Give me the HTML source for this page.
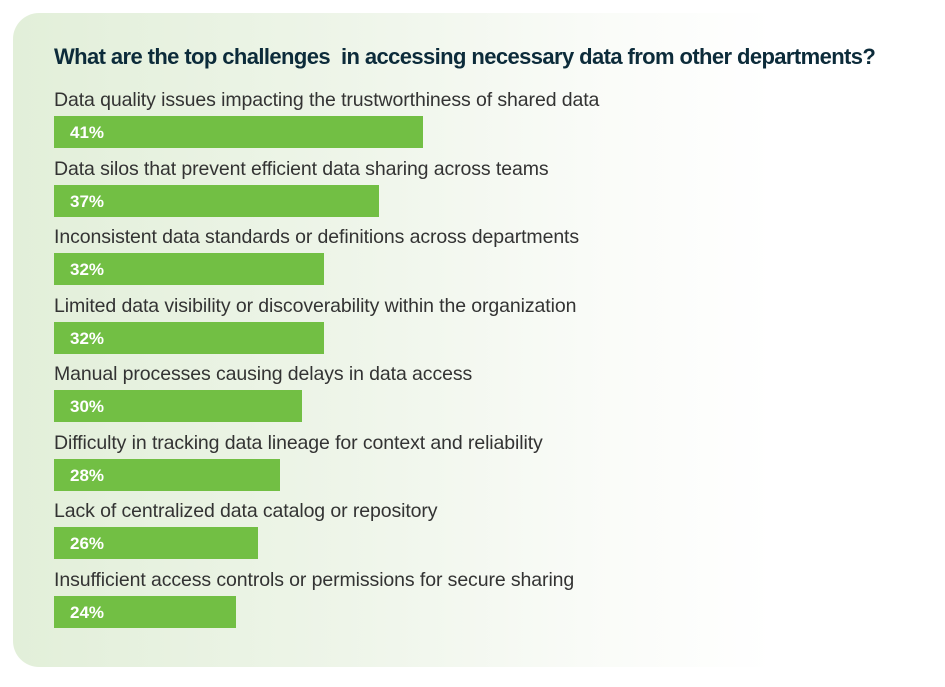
<!DOCTYPE html>
<html><head><meta charset="utf-8"><style>
body{margin:0;width:945px;height:687px;background:#fff;overflow:hidden;font-family:"Liberation Sans",sans-serif}
#card{position:absolute;left:13px;top:13px;width:950px;height:654px;border-radius:26px;background:linear-gradient(90deg,#e2efd9 0%,#eef5e9 35%,#f9fbf7 60%,#fff 80%)}
#title{position:absolute;left:54px;top:44px;font-size:22px;font-weight:bold;color:#0c2b3a;letter-spacing:-0.6px;white-space:nowrap}
.lbl{position:absolute;left:54px;font-size:19.5px;color:#333;white-space:nowrap;letter-spacing:-0.1px}
.bar{position:absolute;left:54px;height:32px;background:#72bf44}
.val{position:absolute;left:16px;top:7px;font-size:17px;font-weight:bold;color:#fff}
</style></head><body>
<div id="card"></div>
<div id="title">What are the top challenges&nbsp; in accessing necessary data from other departments?</div>
<div id="chart"></div>
<script>
const categories=["Data quality issues impacting the trustworthiness of shared data","Data silos that prevent efficient data sharing across teams","Inconsistent data standards or definitions across departments","Limited data visibility or discoverability within the organization","Manual processes causing delays in data access","Difficulty in tracking data lineage for context and reliability","Lack of centralized data catalog or repository","Insufficient access controls or permissions for secure sharing"];
const values=[41,37,32,32,30,28,26,24];
const valueLabels=["41%","37%","32%","32%","30%","28%","26%","24%"];
function xScale(v){return 182+(v-24)*11;}
function rowTop(i){return 116+i*68.5;}
const chart=document.getElementById('chart');
categories.forEach((c,i)=>{
  const l=document.createElement('div');
  l.className='lbl';
  l.style.top=(rowTop(i)-27)+'px';
  l.textContent=c;
  
  
  chart.appendChild(l);
  const b=document.createElement('div');
  b.className='bar';
  b.style.top=rowTop(i)+'px';
  b.style.width=xScale(values[i])+'px';
  
  
  const t=document.createElement('div');
  t.className='val';
  t.textContent=valueLabels[i];
  
  
  b.appendChild(t);
  chart.appendChild(b);
});
</script>
</body></html>
